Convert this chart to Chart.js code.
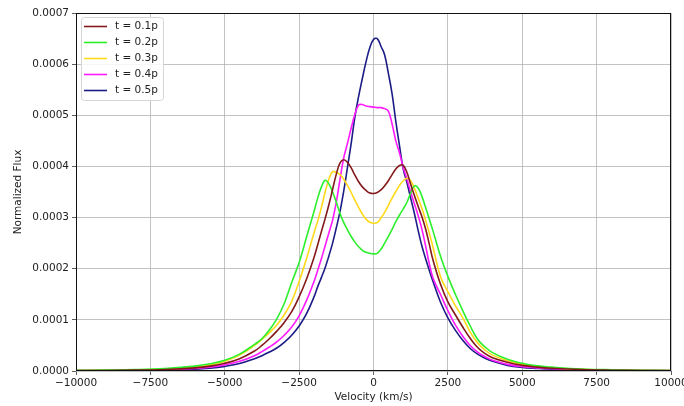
<!DOCTYPE html>
<html>
<head>
<meta charset="utf-8">
<script src="https://cdn.jsdelivr.net/npm/chart.js@4.4.1/dist/chart.umd.min.js"></script>
<style>
  html, body { margin: 0; padding: 0; background: #fff; }
</style>
</head>
<body>
<canvas id="myChart" width="684" height="406"></canvas>
<script>
// velocity grid (km/s)
const velocities = [-10000, -9000, -8000, -7000, -6000, -5500, -5000, -4500, -4000, -3750, -3500, -3250, -3000, -2750, -2500, -2250, -2000,
  -1875, -1750, -1625, -1500, -1375, -1250, -1125, -1000, -875, -750, -625, -500, -375, -250, -125, 0,
  125, 250, 375, 500, 625, 750, 875, 1000, 1125, 1250, 1375, 1500, 1625, 1750, 1875,
  2000, 2250, 2500, 2750, 3000, 3250, 3500, 3750, 4000, 4500, 5000, 5500, 6000, 7000, 8000, 9000, 10000];

// normalized flux, in units of 1e-4
const FLUX_UNIT = 1e-4;
const flux_t01 = [0.008, 0.011, 0.017, 0.03, 0.062, 0.095, 0.15, 0.24, 0.39, 0.5, 0.63, 0.78, 0.95, 1.16, 1.45, 1.8, 2.22,
  2.47, 2.73, 2.98, 3.25, 3.55, 3.85, 4.07, 4.13, 4.08, 3.97, 3.83, 3.7, 3.6, 3.53, 3.48, 3.47,
  3.49, 3.54, 3.62, 3.72, 3.84, 3.95, 4.02, 4.02, 3.88, 3.65, 3.43, 3.22, 3.02, 2.78, 2.48,
  2.17, 1.7, 1.35, 1.1, 0.86, 0.64, 0.46, 0.34, 0.26, 0.17, 0.11, 0.075, 0.053, 0.028, 0.016, 0.01, 0.007];
const flux_t02 = [0.012, 0.017, 0.026, 0.048, 0.095, 0.14, 0.21, 0.33, 0.52, 0.63, 0.8, 1.02, 1.32, 1.73, 2.12, 2.62, 3.12,
  3.38, 3.6, 3.73, 3.66, 3.5, 3.3, 3.08, 2.9, 2.76, 2.63, 2.52, 2.43, 2.36, 2.32, 2.3, 2.29,
  2.3, 2.38, 2.5, 2.63, 2.77, 2.92, 3.05, 3.17, 3.3, 3.48, 3.62, 3.58, 3.42, 3.2, 2.97,
  2.74, 2.25, 1.85, 1.5, 1.18, 0.88, 0.62, 0.47, 0.36, 0.23, 0.15, 0.1, 0.075, 0.04, 0.024, 0.016, 0.011];
const flux_t03 = [0.01, 0.014, 0.021, 0.038, 0.075, 0.115, 0.19, 0.31, 0.5, 0.62, 0.75, 0.9, 1.1, 1.36, 1.75, 2.2, 2.7,
  2.93, 3.2, 3.5, 3.75, 3.9, 3.88, 3.84, 3.75, 3.63, 3.49, 3.34, 3.2, 3.07, 2.97, 2.91, 2.89,
  2.9, 2.99, 3.1, 3.24, 3.38, 3.51, 3.63, 3.72, 3.77, 3.72, 3.57, 3.38, 3.18, 2.95, 2.7,
  2.42, 1.85, 1.55, 1.28, 1.04, 0.76, 0.55, 0.41, 0.31, 0.2, 0.13, 0.09, 0.065, 0.035, 0.02, 0.013, 0.009];
const flux_t04 = [0.006, 0.009, 0.014, 0.025, 0.05, 0.075, 0.12, 0.19, 0.3, 0.38, 0.47, 0.57, 0.7, 0.86, 1.08, 1.38, 1.75,
  1.97, 2.2, 2.45, 2.7, 2.95, 3.3, 3.75, 4.17, 4.45, 4.75, 5.02, 5.2, 5.21, 5.18, 5.17, 5.16,
  5.15, 5.15, 5.13, 5.08, 4.83, 4.5, 4.26, 3.98, 3.75, 3.5, 3.27, 3.04, 2.78, 2.45, 2.1,
  1.82, 1.5, 1.18, 0.9, 0.68, 0.5, 0.37, 0.28, 0.21, 0.13, 0.085, 0.06, 0.044, 0.025, 0.014, 0.009, 0.006];
const flux_t05 = [0.005, 0.007, 0.011, 0.02, 0.037, 0.055, 0.09, 0.145, 0.24, 0.3, 0.37, 0.45, 0.56, 0.7, 0.88, 1.12, 1.45,
  1.65, 1.83, 2.02, 2.25, 2.5, 2.8, 3.12, 3.52, 3.98, 4.45, 4.97, 5.37, 5.72, 6.05, 6.32, 6.48,
  6.5, 6.35, 6.18, 5.82, 5.42, 4.88, 4.4, 3.95, 3.68, 3.38, 3.08, 2.75, 2.45, 2.2, 1.97,
  1.75, 1.35, 1.04, 0.8, 0.6, 0.44, 0.33, 0.25, 0.19, 0.11, 0.07, 0.05, 0.035, 0.018, 0.01, 0.007, 0.005];

const seriesLabels = ['t = 0.1p', 't = 0.2p', 't = 0.3p', 't = 0.4p', 't = 0.5p'];
const seriesColors = ['#84191b', '#2cf02c', '#ffd91a', '#ff1aff', '#1c1c86'];
const seriesFlux = [flux_t01, flux_t02, flux_t03, flux_t04, flux_t05];

const xTickStep = 2500;
const yTickStep = 0.0001;

const FONT = 'DejaVu Sans';

function toPoints(arr) {
  return velocities.map((v, i) => ({ x: v, y: arr[i] * FLUX_UNIT }));
}

/* matplotlib 스타일 외곽선 + 범례 */
const framePlugin = {
  id: 'frame',
  afterDatasetsDraw(chart) {
    const a = chart.chartArea;
    const ctx = chart.ctx;
    ctx.save();
    ctx.strokeStyle = '#111';
    ctx.lineWidth = 1;
    ctx.strokeRect(Math.round(a.left) + 0.5, Math.round(a.top) + 0.5,
      Math.round(a.right - a.left) - 1, Math.round(a.bottom - a.top) - 1);
    ctx.restore();
  },
  afterDraw(chart) {
    const a = chart.chartArea;
    const ctx = chart.ctx;
    const x0 = a.left + 5, y0 = a.top + 4, w = 82, h = 83;
    ctx.save();
    ctx.beginPath();
    ctx.roundRect(x0 + 0.5, y0 + 0.5, w, h, 3);
    ctx.fillStyle = 'rgba(255,255,255,0.85)';
    ctx.fill();
    ctx.strokeStyle = '#d6d6d6';
    ctx.lineWidth = 1;
    ctx.stroke();
    ctx.font = '10.5px "' + FONT + '"';
    ctx.textBaseline = 'middle';
    chart.data.datasets.forEach((ds, i) => {
      const yy = y0 + 9.5 + i * 16;
      ctx.strokeStyle = ds.borderColor;
      ctx.lineWidth = 1.6;
      ctx.beginPath();
      ctx.moveTo(x0 + 3, yy);
      ctx.lineTo(x0 + 26, yy);
      ctx.stroke();
      ctx.fillStyle = '#222';
      ctx.fillText(ds.label, x0 + 34, yy);
    });
    ctx.restore();
  }
};

const ctx = document.getElementById('myChart');
new Chart(ctx, {
  type: 'line',
  data: {
    datasets: seriesFlux.map((arr, i) => ({
      label: seriesLabels[i],
      data: toPoints(arr),
      borderColor: seriesColors[i],
      backgroundColor: seriesColors[i],
      borderWidth: 1.6,
      pointRadius: 0,
      fill: false,
      tension: 0.4
    }))
  },
  options: {
    responsive: false,
    animation: false,
    layout: { padding: { top: 13, right: 13, left: 0, bottom: 0 } },
    plugins: {
      legend: { display: false },
      tooltip: { enabled: false }
    },
    scales: {
      x: {
        type: 'linear',
        min: -10000,
        max: 10000,
        ticks: {
          stepSize: xTickStep,
          color: '#222',
          padding: 2,
          maxRotation: 0,
          autoSkip: false,
          font: { family: FONT, size: 10.5 },
          callback: v => String(v).replace('-', '\u2212')
        },
        grid: { color: '#b4b4b4', lineWidth: 0.8, tickLength: 4, tickColor: '#333' },
        border: { display: false },
        title: {
          display: true,
          text: 'Velocity (km/s)',
          color: '#222',
          font: { family: FONT, size: 10.5 },
          padding: { top: 0, bottom: 2 }
        },
        afterFit: s => { s.height = 35; s.paddingLeft = 0; s.paddingRight = 0; }
      },
      y: {
        min: 0,
        max: 0.0007,
        ticks: {
          stepSize: yTickStep,
          color: '#222',
          padding: 3,
          font: { family: FONT, size: 10.5 },
          callback: v => v.toFixed(4)
        },
        grid: { color: '#b4b4b4', lineWidth: 0.8, tickLength: 4, tickColor: '#333' },
        border: { display: false },
        title: {
          display: true,
          text: 'Normalized Flux',
          color: '#222',
          font: { family: FONT, size: 10.5 },
          padding: { top: 12, bottom: 0 }
        },
        afterFit: s => { s.width = 76; s.paddingTop = 0; s.paddingBottom = 0; }
      }
    }
  },
  plugins: [framePlugin]
});
</script>
</body>
</html>
